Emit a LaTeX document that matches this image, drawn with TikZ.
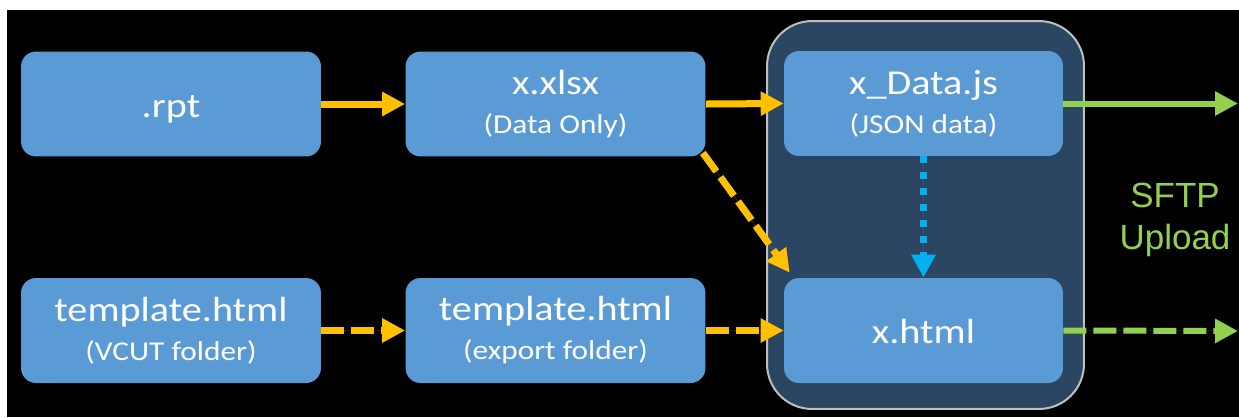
\documentclass[tikz,border=0pt]{standalone}
\usepackage{fontspec}
\newfontfamily\boxfont{Carlito}[FakeStretch=1.15]
\newfontfamily\arialfont{Liberation Sans}
\usetikzlibrary{arrows.meta,calc}
\definecolor{boxblue}{HTML}{5B9BD5}
\definecolor{orng}{HTML}{FFC000}
\definecolor{skyb}{HTML}{00B0F0}
\definecolor{grn}{HTML}{92D050}
\definecolor{panelfill}{HTML}{2A4662}
\definecolor{panelline}{HTML}{BFBFBF}
\newcommand\mainsz{\fontsize{19.9}{22.2}\selectfont}
\newcommand\subsz{\fontsize{15.5}{22.2}\selectfont}
\begin{document}
\begin{tikzpicture}[x=0.02cm,y=-0.02cm,
  fbox/.style={fill=boxblue, rounded corners=0.3cm, text=white, align=center,
    inner sep=0pt, font=\boxfont\mainsz, minimum height=2.1cm},
  wide/.style={minimum width=6cm},
  narrow/.style={minimum width=5.58cm},
  oneline/.style={text height=0.6cm, text depth=0.08cm},
  panelbox/.style={draw=panelline, fill=panelfill, line width=0.04cm,
    rounded corners=0.9cm, inner sep=0pt, minimum width=6.34cm, minimum height=7.76cm},
  tipx/.style={-{Triangle[length=0.46cm,width=0.46cm]}},
  oarrow/.style={tipx, draw=orng, fill=orng, line width=0.14cm},
  odash/.style={oarrow, dash pattern=on 0.46cm off 0.14cm},
  bdot/.style={tipx, draw=skyb, fill=skyb, line width=0.14cm, dash pattern=on 0.14cm off 0.18cm},
  garrow/.style={tipx, draw=grn, fill=grn, line width=0.12cm},
  gdash/.style={garrow, dash pattern=on 0.46cm off 0.14cm},
  sftpstyle/.style={text=grn, align=center, inner sep=0pt, font=\arialfont\fontsize{19.9}{23.9}\selectfont}
]
\useasboundingbox (0,0) rectangle (1239,417);
\fill[white] (0,0) rectangle (1239,417);
\fill[black] (7,10) rectangle (1239,417);

\node[panelbox] (panel) at (925.5,215) {};

\node[fbox, wide, oneline] (rpt) at (171,104) {.rpt};
\node[fbox, wide] (xlsx) at (555.5,104) {x.xlsx\\\subsz (Data Only)};
\node[fbox, narrow] (data) at (923.5,103.5) {x\_Data.js\\\subsz (JSON data)};
\node[fbox, wide] (tv) at (171,330.5) {template.html\\\subsz (VCUT folder)};
\node[fbox, wide] (te) at (555.5,330.5) {template.html\\\subsz (export folder)};
\node[fbox, narrow, oneline] (html) at (923.5,330.5) {x.html};

\node[sftpstyle] (sftp) at (1175,220) {SFTP\\Upload};

\coordinate (o1) at (1238,103.5);
\coordinate (o2) at (1238,331);

\draw[oarrow] (rpt.east) -- (xlsx.west);
\draw[oarrow] (xlsx.east) -- (data.west);
\draw[odash] ($(xlsx.south east)+(-3,-4)$) -- ($(html.north west)+(6,-5)$);
\draw[odash] (tv.east) -- (te.west);
\draw[odash] (te.east) -- (html.west);
\draw[bdot] (data.south) -- (html.north);
\draw[garrow] (data.east) -- (o1);
\draw[gdash] (html.east) -- (o2);
\end{tikzpicture}
\end{document}
